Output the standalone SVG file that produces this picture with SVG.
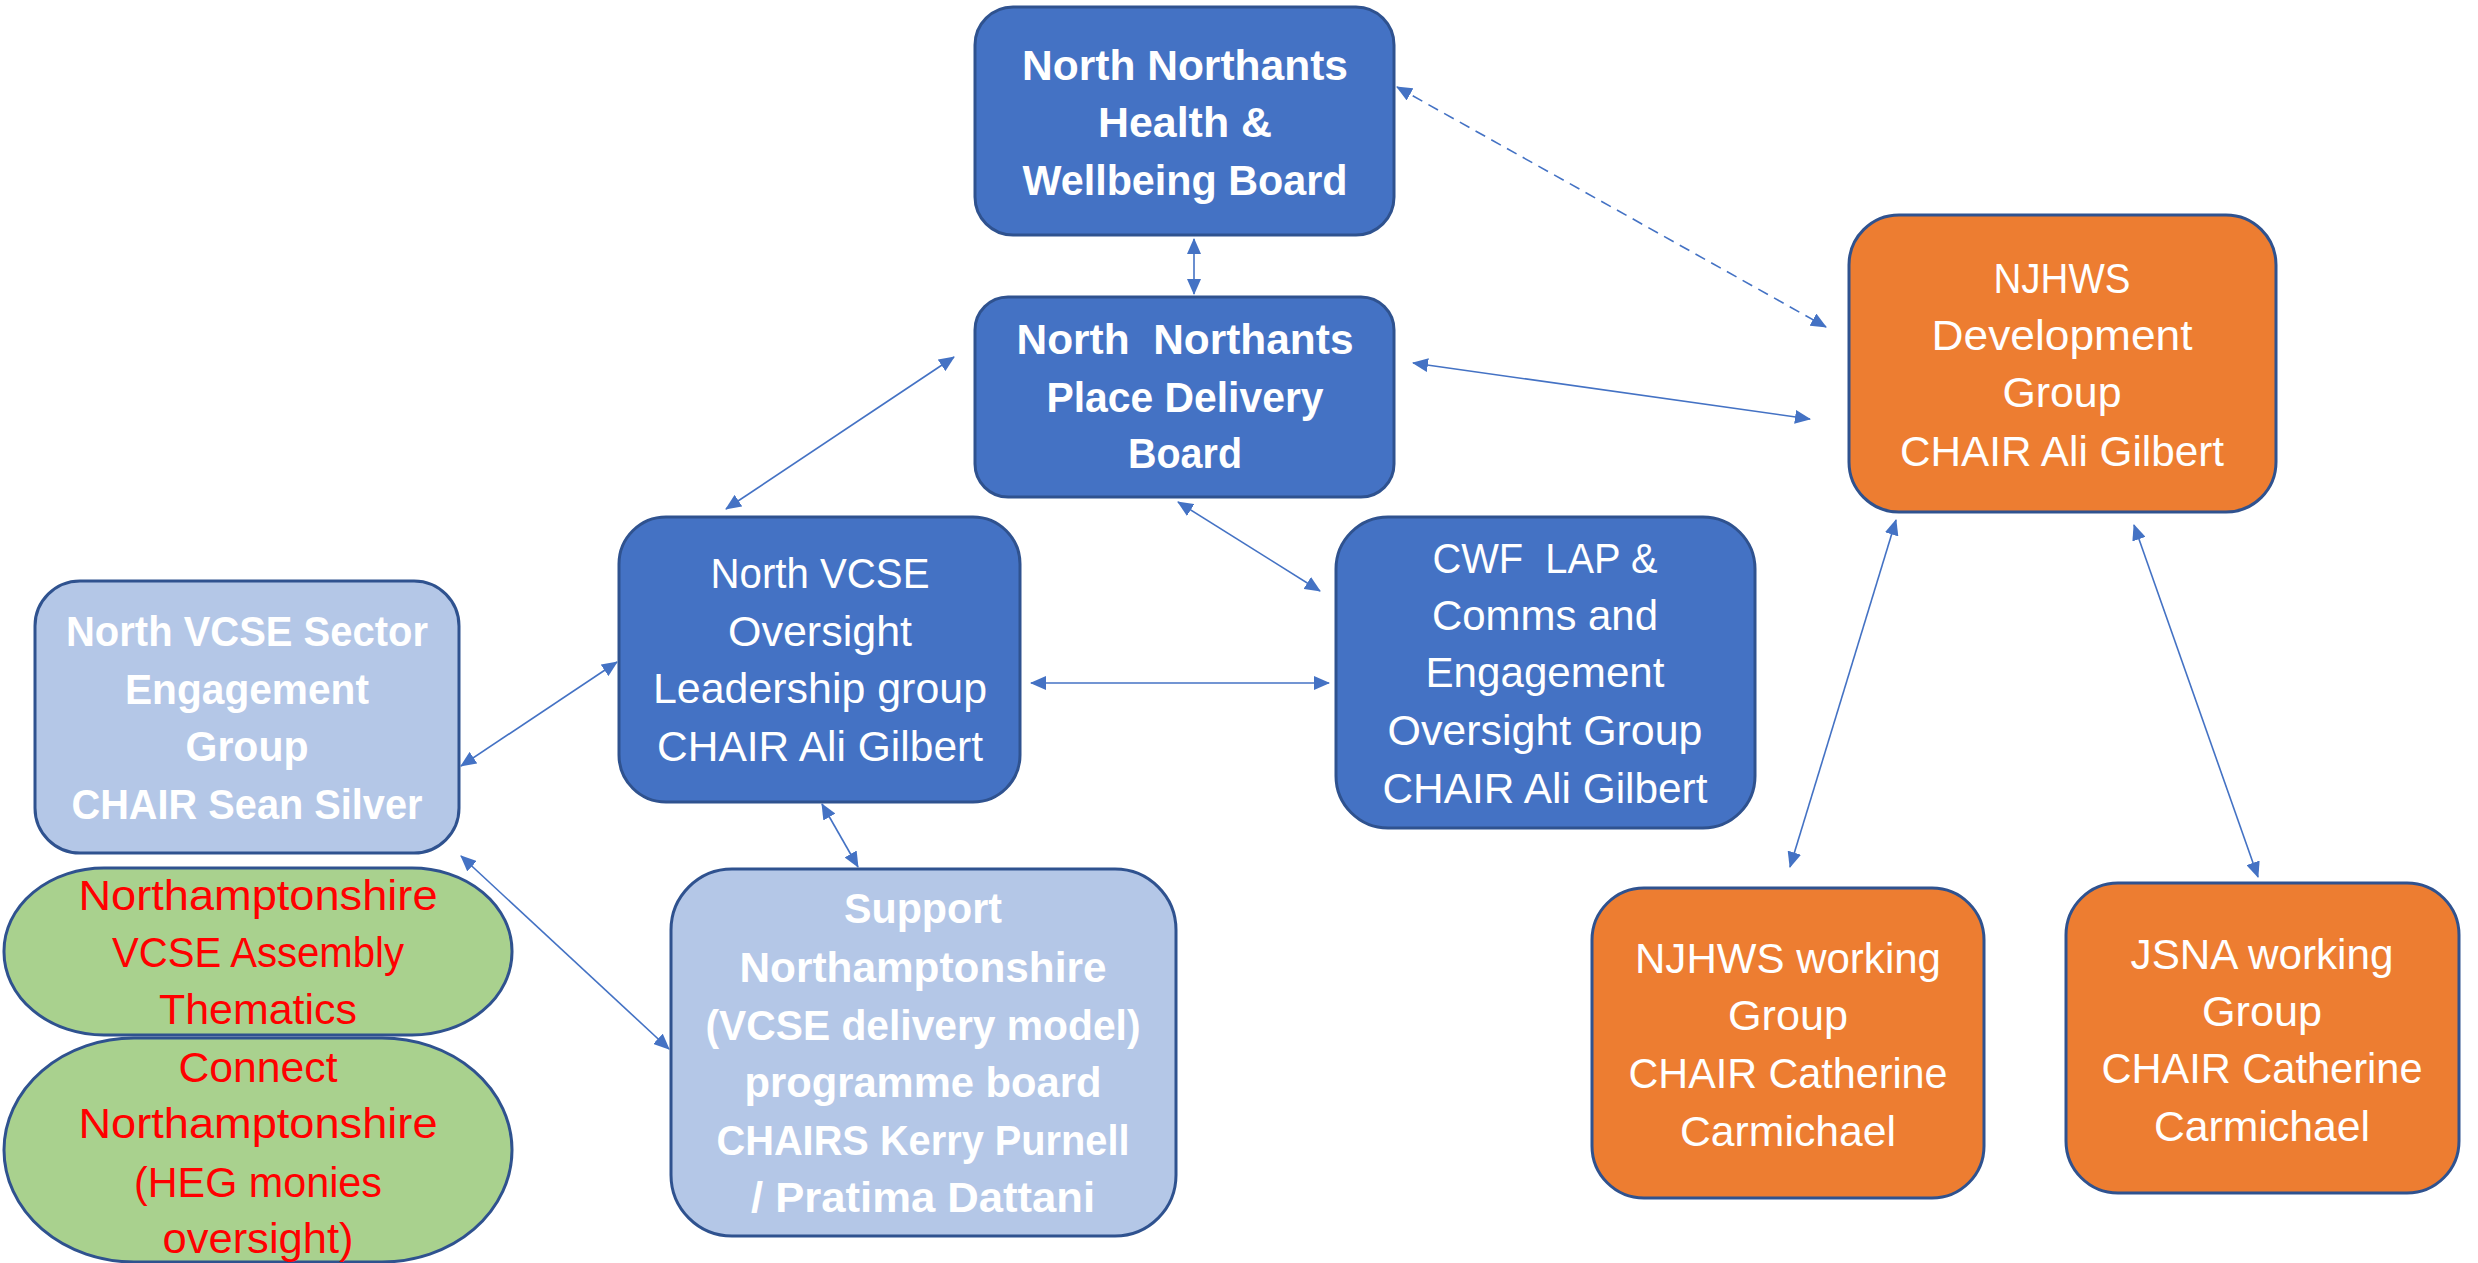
<svg xmlns="http://www.w3.org/2000/svg" width="2478" height="1263" viewBox="0 0 2478 1263">
<style>
.box{stroke:#2F528F;stroke-width:3}
.dark{fill:#4472C4}
.light{fill:#B4C7E7}
.orange{fill:#ED7D31}
.green{fill:#A9D18E}
text{font-family:"Liberation Sans",Arial,sans-serif;font-size:42px;text-anchor:middle;fill:#FFFFFF}
.b{font-weight:bold}
.red{fill:#FF0000}
.con{stroke:#4472C4;stroke-width:1.6;fill:none;marker-start:url(#ah);marker-end:url(#ah)}
.dash{stroke-dasharray:11 7}
</style>
<defs>
<marker id="ah" viewBox="0 0 16 14" refX="15" refY="7" markerWidth="16" markerHeight="14" markerUnits="userSpaceOnUse" orient="auto-start-reverse">
<path d="M0,0 L16,7 L0,14 z" fill="#4472C4"/>
</marker>
</defs>
<rect width="2478" height="1263" fill="#FFFFFF"/>

<g id="connectors">
<line class="con" x1="1194" y1="239" x2="1194" y2="294"/>
<line class="con dash" x1="1397" y1="87" x2="1826" y2="327"/>
<line class="con" x1="1413" y1="363" x2="1810" y2="419"/>
<line class="con" x1="954" y1="357" x2="726" y2="509"/>
<line class="con" x1="1178" y1="502" x2="1320" y2="591"/>
<line class="con" x1="1031" y1="683" x2="1329" y2="683"/>
<line class="con" x1="461" y1="766" x2="617" y2="662"/>
<line class="con" x1="461" y1="856" x2="669" y2="1049"/>
<line class="con" x1="822" y1="804" x2="858" y2="867"/>
<line class="con" x1="1896" y1="520" x2="1790" y2="867"/>
<line class="con" x1="2134" y1="525" x2="2258" y2="877"/>
</g>

<g id="hwb">
<rect class="box dark" x="975" y="7" width="419" height="228" rx="38"/>
<text class="b" x="1185" y="80" textLength="326" lengthAdjust="spacingAndGlyphs">North Northants</text>
<text class="b" x="1185" y="137" textLength="174" lengthAdjust="spacingAndGlyphs">Health &amp;</text>
<text class="b" x="1185" y="195" textLength="325" lengthAdjust="spacingAndGlyphs">Wellbeing Board</text>
</g>

<g id="pdb">
<rect class="box dark" x="975" y="297" width="419" height="200" rx="33"/>
<text class="b" x="1185" y="354" xml:space="preserve" textLength="337" lengthAdjust="spacingAndGlyphs">North  Northants</text>
<text class="b" x="1185" y="412" textLength="277" lengthAdjust="spacingAndGlyphs">Place Delivery</text>
<text class="b" x="1185" y="468" textLength="114" lengthAdjust="spacingAndGlyphs">Board</text>
</g>

<g id="north-vcse">
<rect class="box dark" x="619" y="517" width="401" height="285" rx="47"/>
<text x="820" y="588" textLength="219" lengthAdjust="spacingAndGlyphs">North VCSE</text>
<text x="820" y="646" textLength="184" lengthAdjust="spacingAndGlyphs">Oversight</text>
<text x="820" y="703" textLength="334" lengthAdjust="spacingAndGlyphs">Leadership group</text>
<text x="820" y="761" textLength="326" lengthAdjust="spacingAndGlyphs">CHAIR Ali Gilbert</text>
</g>

<g id="cwf">
<rect class="box dark" x="1336" y="517" width="419" height="311" rx="52"/>
<text x="1545" y="573" xml:space="preserve" textLength="225" lengthAdjust="spacingAndGlyphs">CWF  LAP &amp;</text>
<text x="1545" y="630" textLength="226" lengthAdjust="spacingAndGlyphs">Comms and</text>
<text x="1545" y="687" textLength="239" lengthAdjust="spacingAndGlyphs">Engagement</text>
<text x="1545" y="745" textLength="315" lengthAdjust="spacingAndGlyphs">Oversight Group</text>
<text x="1545" y="803" textLength="325" lengthAdjust="spacingAndGlyphs">CHAIR Ali Gilbert</text>
</g>

<g id="sector">
<rect class="box light" x="35" y="581" width="424" height="272" rx="45"/>
<text class="b" x="247" y="646" textLength="362" lengthAdjust="spacingAndGlyphs">North VCSE Sector</text>
<text class="b" x="247" y="704" textLength="244" lengthAdjust="spacingAndGlyphs">Engagement</text>
<text class="b" x="247" y="761" textLength="123" lengthAdjust="spacingAndGlyphs">Group</text>
<text class="b" x="247" y="819" textLength="351" lengthAdjust="spacingAndGlyphs">CHAIR Sean Silver</text>
</g>

<g id="assembly">
<rect class="box green" x="4" y="868" width="508" height="167" rx="100" ry="83"/>
<text class="red" x="258" y="910" textLength="359" lengthAdjust="spacingAndGlyphs">Northamptonshire</text>
<text class="red" x="258" y="967" textLength="292" lengthAdjust="spacingAndGlyphs">VCSE Assembly</text>
<text class="red" x="258" y="1024" textLength="198" lengthAdjust="spacingAndGlyphs">Thematics</text>
</g>

<g id="connect">
<rect class="box green" x="4" y="1038" width="508" height="224" rx="130" ry="112"/>
<text class="red" x="258" y="1082" textLength="159" lengthAdjust="spacingAndGlyphs">Connect</text>
<text class="red" x="258" y="1138" textLength="359" lengthAdjust="spacingAndGlyphs">Northamptonshire</text>
<text class="red" x="258" y="1197" textLength="248" lengthAdjust="spacingAndGlyphs">(HEG monies</text>
<text class="red" x="258" y="1253" textLength="191" lengthAdjust="spacingAndGlyphs">oversight)</text>
</g>

<g id="support">
<rect class="box light" x="671" y="869" width="505" height="367" rx="61"/>
<text class="b" x="923" y="923" textLength="158" lengthAdjust="spacingAndGlyphs">Support</text>
<text class="b" x="923" y="982" textLength="367" lengthAdjust="spacingAndGlyphs">Northamptonshire</text>
<text class="b" x="923" y="1040" textLength="435" lengthAdjust="spacingAndGlyphs">(VCSE delivery model)</text>
<text class="b" x="923" y="1097" textLength="357" lengthAdjust="spacingAndGlyphs">programme board</text>
<text class="b" x="923" y="1155" textLength="413" lengthAdjust="spacingAndGlyphs">CHAIRS Kerry Purnell</text>
<text class="b" x="923" y="1212" textLength="344" lengthAdjust="spacingAndGlyphs">/ Pratima Dattani</text>
</g>

<g id="njhws-dev">
<rect class="box orange" x="1849" y="215" width="427" height="297" rx="50"/>
<text x="2062" y="293" textLength="137" lengthAdjust="spacingAndGlyphs">NJHWS</text>
<text x="2062" y="350" textLength="261" lengthAdjust="spacingAndGlyphs">Development</text>
<text x="2062" y="407" textLength="119" lengthAdjust="spacingAndGlyphs">Group</text>
<text x="2062" y="466" textLength="324" lengthAdjust="spacingAndGlyphs">CHAIR Ali Gilbert</text>
</g>

<g id="njhws-working">
<rect class="box orange" x="1592" y="888" width="392" height="310" rx="52"/>
<text x="1788" y="973" textLength="306" lengthAdjust="spacingAndGlyphs">NJHWS working</text>
<text x="1788" y="1030" textLength="120" lengthAdjust="spacingAndGlyphs">Group</text>
<text x="1788" y="1088" textLength="319" lengthAdjust="spacingAndGlyphs">CHAIR Catherine</text>
<text x="1788" y="1146" textLength="216" lengthAdjust="spacingAndGlyphs">Carmichael</text>
</g>

<g id="jsna-working">
<rect class="box orange" x="2066" y="883" width="393" height="310" rx="52"/>
<text x="2262" y="969" textLength="263" lengthAdjust="spacingAndGlyphs">JSNA working</text>
<text x="2262" y="1026" textLength="120" lengthAdjust="spacingAndGlyphs">Group</text>
<text x="2262" y="1083" textLength="321" lengthAdjust="spacingAndGlyphs">CHAIR Catherine</text>
<text x="2262" y="1141" textLength="216" lengthAdjust="spacingAndGlyphs">Carmichael</text>
</g>
</svg>
